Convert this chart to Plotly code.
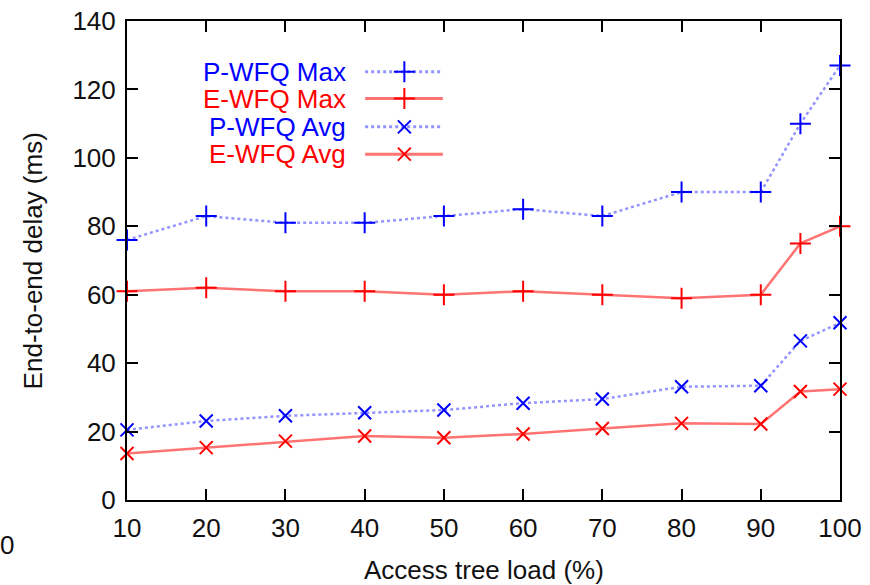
import plotly.graph_objects as go

load = [10, 20, 30, 40, 50, 60, 70, 80, 90, 95, 100]
pwfq_max = [76, 83, 81, 81, 83, 85, 83, 90, 90, 110, 127]
ewfq_max = [61, 62, 61, 61, 60, 61, 60, 59, 60, 75, 80]
pwfq_avg = [20.5, 23.1, 24.6, 25.5, 26.3, 28.3, 29.5, 33.1, 33.4, 46.5, 51.8]
ewfq_avg = [13.6, 15.3, 17.2, 18.7, 18.2, 19.3, 20.9, 22.4, 22.2, 31.7, 32.4]
series_names = ["P-WFQ Max", "E-WFQ Max", "P-WFQ Avg", "E-WFQ Avg"]
x_ticks = [10, 20, 30, 40, 50, 60, 70, 80, 90, 100]
y_ticks = [0, 20, 40, 60, 80, 100, 120, 140]

BLUE = "#0000ff"
RED = "#ff0000"
BLUE_LINE = "rgba(60,60,255,0.55)"
RED_LINE = "rgba(255,0,0,0.55)"
FONT = "Liberation Sans, Arial, sans-serif"
FS = 26

styles = [
    dict(color=BLUE, line=BLUE_LINE, dash="dot", symbol="cross-thin", width=2.5),
    dict(color=RED, line=RED_LINE, dash="solid", symbol="cross-thin", width=2.5),
    dict(color=BLUE, line=BLUE_LINE, dash="dot", symbol="x-thin", width=2.5),
    dict(color=RED, line=RED_LINE, dash="solid", symbol="x-thin", width=2.5),
]
data = [pwfq_max, ewfq_max, pwfq_avg, ewfq_avg]

fig = go.Figure()
for name, ys, st in zip(series_names, data, styles):
    fig.add_trace(go.Scatter(
        x=load, y=ys, name=name, mode="lines+markers",
        line=dict(color=st["line"], width=st["width"], dash=st["dash"]),
        marker=dict(symbol=st["symbol"], size=15 if "cross" in st["symbol"] else 13,
                    color=st["color"], line=dict(color=st["color"], width=2)),
        showlegend=False, cliponaxis=False,
    ))

# legend samples on a hidden overlay axis (fractions of the plot area)
leg_y = [0.894, 0.838, 0.779, 0.722]
leg_x0, leg_x1, leg_xm = 0.334, 0.443, 0.389
for name, ly, st in zip(series_names, leg_y, styles):
    fig.add_trace(go.Scatter(
        x=[leg_x0, leg_xm, leg_x1], y=[ly, ly, ly], mode="lines",
        line=dict(color=st["line"], width=st["width"] + 0.5, dash=st["dash"]),
        xaxis="x2", yaxis="y2", showlegend=False, hoverinfo="skip"))
    fig.add_trace(go.Scatter(
        x=[leg_xm], y=[ly], mode="markers",
        marker=dict(symbol=st["symbol"], size=15 if "cross" in st["symbol"] else 13,
                    color=st["color"], line=dict(color=st["color"], width=2)),
        xaxis="x2", yaxis="y2", showlegend=False, hoverinfo="skip"))
    fig.add_annotation(x=0.310, y=ly, xref="x2", yref="y2", text=name,
                       showarrow=False, xanchor="right", yanchor="middle",
                       font=dict(family=FONT, size=FS, color=st["color"]))

axis_common = dict(
    showgrid=False, zeroline=False, showline=True, linecolor="black", linewidth=2,
    mirror="ticks", ticks="inside", ticklen=11, tickwidth=2, tickcolor="black",
    tickfont=dict(family=FONT, size=FS, color="#111111"), automargin=False,
)
fig.update_layout(
    width=870, height=585,
    margin=dict(l=127, r=30, t=21, b=85),
    paper_bgcolor="white", plot_bgcolor="white",
    xaxis=dict(range=[10, 100], tickvals=x_ticks, ticklabelstandoff=4, **axis_common),
    yaxis=dict(range=[0, 140], tickvals=y_ticks, ticklabelstandoff=4, **axis_common),
    xaxis2=dict(range=[0, 1], overlaying="x", visible=False, fixedrange=True),
    yaxis2=dict(range=[0, 1], overlaying="y", visible=False, fixedrange=True),
    showlegend=False,
)
fig.add_annotation(x=0.5, y=-0.146, xref="paper", yref="paper", yanchor="middle",
                   text="Access tree load (%)", showarrow=False,
                   font=dict(family=FONT, size=FS, color="#111111"))
fig.add_annotation(x=-0.132, y=0.5, xref="paper", yref="paper", xanchor="center",
                   yanchor="middle", text="End-to-end delay (ms)", textangle=-90,
                   showarrow=False, font=dict(family=FONT, size=FS, color="#111111"))
fig.add_annotation(x=-0.168, y=-0.094, xref="paper", yref="paper", xanchor="center",
                   yanchor="middle", text="0", showarrow=False,
                   font=dict(family=FONT, size=FS, color="#111111"))
fig.write_html("out.html", config={"displayModeBar": False},
               post_script="document.body.style.margin='0px';")
